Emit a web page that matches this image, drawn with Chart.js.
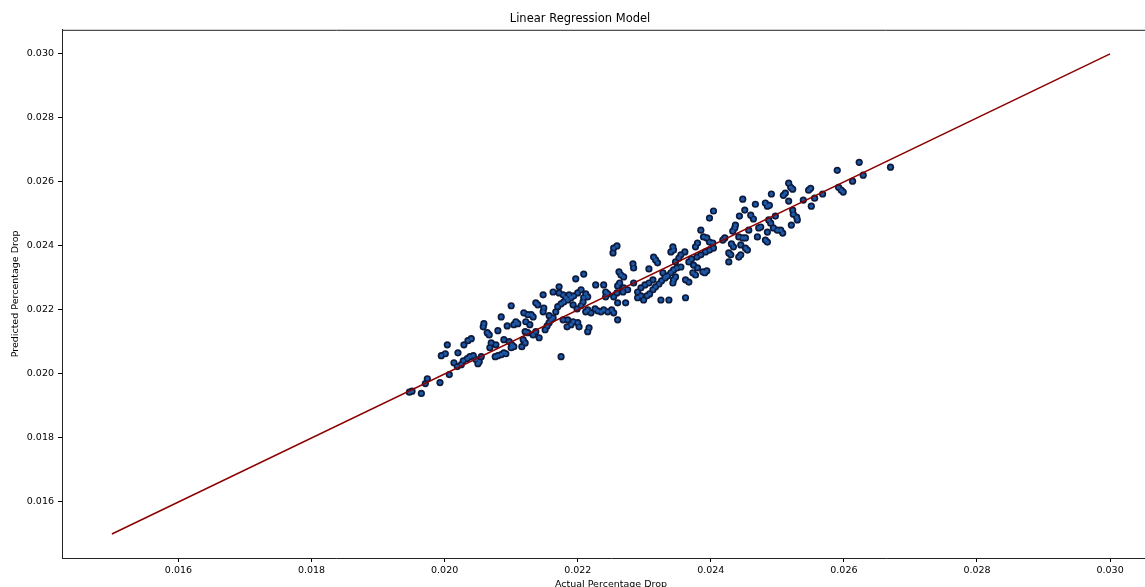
<!DOCTYPE html>
<html>
<head>
<meta charset="utf-8">
<script src="https://cdn.jsdelivr.net/npm/chart.js@4.4.0/dist/chart.umd.min.js"></script>
<style>
  html, body { margin: 0; padding: 0; background: #fff; overflow: hidden; }
  #wrap { width: 1222px; height: 595px; }
</style>
</head>
<body>
<div id="wrap"><canvas id="chart" width="1222" height="595"></canvas></div>
<script>
// actual vs predicted percentage drop
const actualDrop = [
  0.01947, 0.01951, 0.01965, 0.01971, 0.01974, 0.01993, 0.01995, 0.02001, 0.02004, 0.02007,
  0.02014, 0.02019, 0.02020, 0.02025, 0.02028, 0.02029, 0.02035, 0.02040, 0.02034, 0.02038,
  0.02043, 0.02047, 0.02052, 0.02055, 0.02050, 0.02058, 0.02059, 0.02064, 0.02067, 0.02068,
  0.02070, 0.02076, 0.02077, 0.02080, 0.02080, 0.02085, 0.02089, 0.02092, 0.02085, 0.02089,
  0.02097, 0.02101, 0.02104, 0.02100, 0.02094, 0.02100, 0.02107, 0.02110, 0.02104, 0.02116,
  0.02118, 0.02121, 0.02122, 0.02128, 0.02119, 0.02125, 0.02130, 0.02133, 0.02121, 0.02125,
  0.02137, 0.02133, 0.02142, 0.02137, 0.02140, 0.02149, 0.02148, 0.02148, 0.02163, 0.02172,
  0.02197, 0.02209, 0.02157, 0.02160, 0.02154, 0.02151, 0.02157, 0.02163, 0.02167, 0.02170,
  0.02175, 0.02179, 0.02185, 0.02190, 0.02194, 0.02200, 0.02205, 0.02172, 0.02178, 0.02182,
  0.02187, 0.02193, 0.02199, 0.02178, 0.02185, 0.02193, 0.02190, 0.02184, 0.02200, 0.02202,
  0.02175, 0.02215, 0.02217, 0.02212, 0.02215, 0.02209, 0.02208, 0.02205, 0.02212, 0.02215,
  0.02220, 0.02226, 0.02230, 0.02235, 0.02239, 0.02245, 0.02251, 0.02254, 0.02227, 0.02239,
  0.02242, 0.02245, 0.02242, 0.02254, 0.02259, 0.02260, 0.02263, 0.02268, 0.02269, 0.02275,
  0.02260, 0.02272, 0.02260, 0.02254, 0.02259, 0.02253, 0.02262, 0.02265, 0.02269, 0.02283,
  0.02284, 0.02284, 0.02290, 0.02295, 0.02299, 0.02304, 0.02308, 0.02313, 0.02317, 0.02322,
  0.02326, 0.02331, 0.02335, 0.02340, 0.02344, 0.02349, 0.02290, 0.02295, 0.02301, 0.02307,
  0.02313, 0.02325, 0.02337, 0.02307, 0.02314, 0.02317, 0.02320, 0.02328, 0.02332, 0.02340,
  0.02344, 0.02343, 0.02347, 0.02352, 0.02355, 0.02361, 0.02347, 0.02344, 0.02343, 0.02362,
  0.02367, 0.02362, 0.02355, 0.02373, 0.02377, 0.02374, 0.02380, 0.02388, 0.02391, 0.02394,
  0.02367, 0.02371, 0.02379, 0.02385, 0.02392, 0.02398, 0.02404, 0.02380, 0.02377, 0.02385,
  0.02389, 0.02394, 0.02398, 0.02403, 0.02398, 0.02404, 0.02418, 0.02421, 0.02431, 0.02434,
  0.02427, 0.02430, 0.02427, 0.02445, 0.02442, 0.02445, 0.02452, 0.02455, 0.02433, 0.02436,
  0.02437, 0.02442, 0.02448, 0.02452, 0.02457, 0.02443, 0.02451, 0.02448, 0.02460, 0.02464,
  0.02467, 0.02472, 0.02475, 0.02470, 0.02482, 0.02485, 0.02482, 0.02485, 0.02487, 0.02485,
  0.02490, 0.02494, 0.02500, 0.02505, 0.02508, 0.02497, 0.02491, 0.02488, 0.02517, 0.02520,
  0.02523, 0.02512, 0.02509, 0.02517, 0.02523, 0.02524, 0.02529, 0.02530, 0.02521, 0.02539,
  0.02547, 0.02550, 0.02551, 0.02556, 0.02568, 0.02590, 0.02592, 0.02596, 0.02599, 0.02613,
  0.02623, 0.02629, 0.02670
];
const predictedDrop = [
  0.01943, 0.01946, 0.01939, 0.01970, 0.01985, 0.01973, 0.02057, 0.02063, 0.02091, 0.01998,
  0.02035, 0.02023, 0.02066, 0.02029, 0.02041, 0.02091, 0.02104, 0.02110, 0.02048, 0.02054,
  0.02057, 0.02045, 0.02038, 0.02054, 0.02032, 0.02147, 0.02157, 0.02129, 0.02122, 0.02082,
  0.02097, 0.02054, 0.02091, 0.02135, 0.02057, 0.02060, 0.02066, 0.02063, 0.02178, 0.02107,
  0.02101, 0.02091, 0.02085, 0.02082, 0.02150, 0.02213, 0.02163, 0.02157, 0.02154, 0.02085,
  0.02107, 0.02097, 0.02163, 0.02154, 0.02191, 0.02185, 0.02185, 0.02178, 0.02132, 0.02129,
  0.02132, 0.02122, 0.02113, 0.02222, 0.02216, 0.02206, 0.02194, 0.02247, 0.02256, 0.02272,
  0.02297, 0.02312, 0.02182, 0.02169, 0.02150, 0.02138, 0.02160, 0.02175, 0.02194, 0.02210,
  0.02219, 0.02225, 0.02231, 0.02238, 0.02244, 0.02253, 0.02263, 0.02253, 0.02247, 0.02238,
  0.02247, 0.02216, 0.02203, 0.02169, 0.02169, 0.02163, 0.02154, 0.02147, 0.02160, 0.02147,
  0.02054, 0.02132, 0.02144, 0.02250, 0.02241, 0.02238, 0.02225, 0.02213, 0.02194, 0.02200,
  0.02191, 0.02203, 0.02197, 0.02194, 0.02200, 0.02194, 0.02200, 0.02191, 0.02278, 0.02278,
  0.02256, 0.02250, 0.02241, 0.02241, 0.02253, 0.02275, 0.02284, 0.02256, 0.02269, 0.02263,
  0.02222, 0.02222, 0.02169, 0.02393, 0.02400, 0.02378, 0.02319, 0.02309, 0.02303, 0.02344,
  0.02331, 0.02284, 0.02238, 0.02244, 0.02231, 0.02244, 0.02250, 0.02263, 0.02272, 0.02281,
  0.02291, 0.02300, 0.02306, 0.02316, 0.02325, 0.02331, 0.02256, 0.02269, 0.02278, 0.02284,
  0.02294, 0.02231, 0.02231, 0.02328, 0.02365, 0.02356, 0.02347, 0.02316, 0.02303, 0.02381,
  0.02387, 0.02397, 0.02350, 0.02362, 0.02372, 0.02381, 0.02303, 0.02294, 0.02284, 0.02294,
  0.02287, 0.02238, 0.02334, 0.02316, 0.02309, 0.02340, 0.02331, 0.02319, 0.02316, 0.02322,
  0.02350, 0.02359, 0.02365, 0.02372, 0.02381, 0.02387, 0.02393, 0.02409, 0.02397, 0.02449,
  0.02428, 0.02425, 0.02412, 0.02409, 0.02487, 0.02509, 0.02418, 0.02425, 0.02406, 0.02397,
  0.02378, 0.02372, 0.02350, 0.02372, 0.02365, 0.02403, 0.02393, 0.02387, 0.02446, 0.02456,
  0.02465, 0.02428, 0.02425, 0.02425, 0.02449, 0.02493, 0.02512, 0.02546, 0.02496, 0.02484,
  0.02530, 0.02456, 0.02459, 0.02428, 0.02418, 0.02412, 0.02534, 0.02524, 0.02481, 0.02443,
  0.02471, 0.02456, 0.02449, 0.02449, 0.02440, 0.02493, 0.02562, 0.02527, 0.02596, 0.02583,
  0.02577, 0.02565, 0.02558, 0.02540, 0.02512, 0.02499, 0.02490, 0.02481, 0.02465, 0.02543,
  0.02574, 0.02580, 0.02524, 0.02549, 0.02562, 0.02636, 0.02583, 0.02574, 0.02568, 0.02602,
  0.02661, 0.02621, 0.02646
];
// the y = x reference line
const fitLineX = [0.015, 0.030];
const fitLineY = [0.015, 0.030];
const xTicks = [0.016, 0.018, 0.020, 0.022, 0.024, 0.026, 0.028, 0.030];
const yTicks = [0.016, 0.018, 0.020, 0.022, 0.024, 0.026, 0.028, 0.030];

const points = actualDrop.map((x, i) => ({ x: x, y: predictedDrop[i] }));
const linePts = fitLineX.map((x, i) => ({ x: x, y: fitLineY[i] }));

const tickFont = { family: 'DejaVu Sans', size: 9.5 };

// matplotlib-like top spine
const topSpine = {
  id: 'topSpine',
  afterDraw(chart) {
    const { ctx, chartArea } = chart;
    ctx.save();
    ctx.strokeStyle = '#222';
    ctx.lineWidth = 1;
    ctx.beginPath();
    ctx.moveTo(chartArea.left, chartArea.top + 0.5);
    ctx.lineTo(chartArea.right, chartArea.top + 0.5);
    ctx.stroke();
    ctx.restore();
  }
};

new Chart(document.getElementById('chart'), {
  type: 'scatter',
  data: {
    datasets: [
      {
        type: 'line',
        data: linePts,
        borderColor: '#8b0000',
        borderWidth: 1.5,
        pointRadius: 0,
        fill: false,
        order: 0
      },
      {
        data: points,
        backgroundColor: '#1d58a6',
        pointRadius: 1.9,
        borderWidth: 0,
        order: 1
      },
      {
        data: points,
        backgroundColor: '#0d1a3c',
        pointRadius: 3.6,
        borderWidth: 0,
        order: 2
      }
    ]
  },
  options: {
    responsive: false,
    animation: false,
    layout: { padding: { left: 0, right: 62, top: 0, bottom: 0 } },
    plugins: {
      legend: { display: false },
      tooltip: { enabled: false },
      title: {
        display: true,
        text: 'Linear Regression Model',
        color: '#000',
        font: { family: 'DejaVu Sans', size: 11.5, weight: 'normal' },
        padding: { top: 12, bottom: 4 }
      }
    },
    scales: {
      x: {
        type: 'linear',
        min: 0.01425,
        max: 0.03075,
        afterBuildTicks: (s) => { s.ticks = xTicks.map(v => ({ value: v })); },
        afterFit: (s) => { s.height = 37; },
        ticks: {
          color: '#000',
          font: tickFont,
          padding: 3,
          maxRotation: 0,
          callback: (v) => v.toFixed(3)
        },
        grid: { display: true, drawOnChartArea: false, tickLength: 4, color: '#000' },
        border: { display: true, color: '#222', width: 1 },
        title: {
          display: true,
          text: 'Actual Percentage Drop',
          color: '#000',
          font: tickFont,
          padding: { top: 0, bottom: 5 }
        }
      },
      y: {
        type: 'linear',
        min: 0.01425,
        max: 0.03075,
        afterBuildTicks: (s) => { s.ticks = yTicks.map(v => ({ value: v })); },
        afterFit: (s) => { s.width = 62; },
        ticks: {
          color: '#000',
          font: tickFont,
          padding: 4,
          callback: (v) => v.toFixed(3)
        },
        grid: { display: true, drawOnChartArea: false, tickLength: 4, color: '#000' },
        border: { display: true, color: '#222', width: 1 },
        title: {
          display: true,
          text: 'Predicted Percentage Drop',
          color: '#000',
          font: tickFont,
          padding: { top: 10, bottom: 0 }
        }
      }
    }
  },
  plugins: [topSpine]
});
</script>
</body>
</html>
